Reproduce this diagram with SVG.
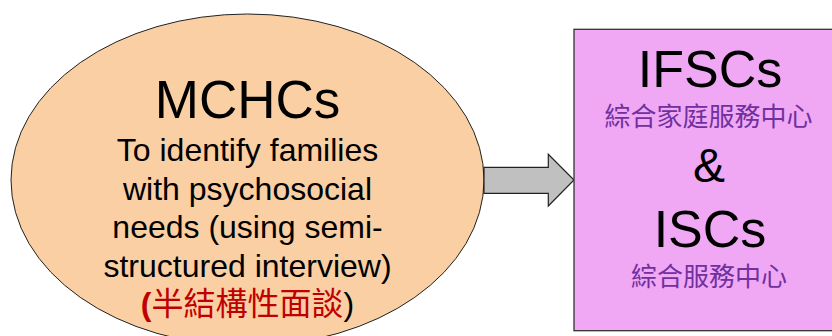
<svg xmlns="http://www.w3.org/2000/svg" width="832" height="336" viewBox="0 0 832 336">
<style>
.t{font-family:"Liberation Sans","Noto Sans CJK TC",Arial,sans-serif;text-anchor:middle;fill:#000}
.zh{font-family:"Liberation Sans","Noto Sans CJK TC",sans-serif;text-anchor:middle}
</style>
<rect width="832" height="336" fill="#fff"/>
<g id="mchcs">
<ellipse cx="247.5" cy="180" rx="236.5" ry="166" fill="#f9cfa3" stroke="#222" stroke-width="1"/>
<text class="t" x="247.5" y="118" font-size="53">MCHCs</text>
<text class="t" x="247.5" y="161" font-size="32">To identify families</text>
<text class="t" x="247.5" y="199.5" font-size="32">with psychosocial</text>
<text class="t" x="247.5" y="238" font-size="32">needs (using semi-</text>
<text class="t" x="247.5" y="276.5" font-size="32">structured interview)</text>
<text class="zh" x="247.5" y="315" font-size="32"><tspan fill="#c00000" font-weight="bold">(</tspan><tspan fill="#c00000">半結構性面談</tspan><tspan fill="#000">)</tspan></text>
</g>
<g id="connectors">
<polygon points="484,167.3 548.3,167.3 548.3,154.3 574,180 548.3,206 548.3,193.3 484,193.3" fill="#c0c0c0" stroke="#222" stroke-width="1.2"/>
</g>
<g id="ifscs">
<rect x="574" y="29.3" width="270" height="301.4" fill="#f0a8f4" stroke="#333" stroke-width="1.3"/>
<text class="t" x="710" y="86.7" font-size="52">IFSCs</text>
<text class="zh" x="708.5" y="126" font-size="26" fill="#7030a0">綜合家庭服務中心</text>
<text class="t" x="709" y="182" font-size="48">&amp;</text>
<text class="t" x="710" y="246.7" font-size="52">ISCs</text>
<text class="zh" x="709" y="286" font-size="26" fill="#7030a0">綜合服務中心</text>
</g>
</svg>
